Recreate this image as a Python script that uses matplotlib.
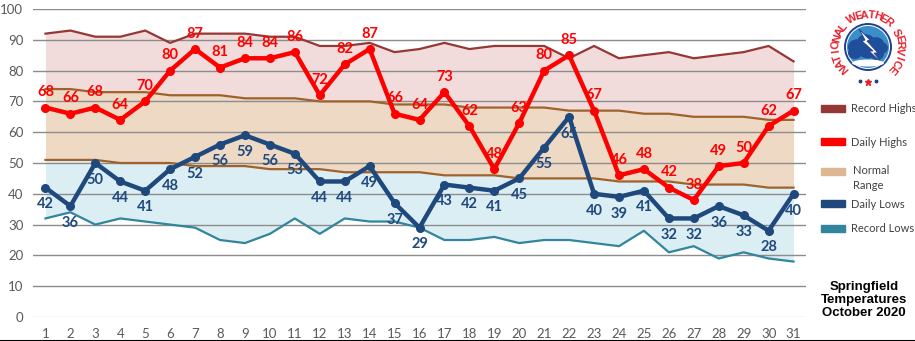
import matplotlib
matplotlib.use("Agg")
import matplotlib.pyplot as plt
import numpy as np
from matplotlib.patches import Rectangle, Circle, Ellipse, Polygon

days = list(range(1, 32))
record_highs = [92, 93, 91, 91, 93, 89, 92, 92, 92, 91, 91, 88, 88, 89, 86, 87, 89, 87, 88, 88,
                88, 84, 88, 84, 85, 86, 84, 85, 86, 88, 83]
normal_highs = [74, 74, 73, 73, 73, 72, 72, 72, 71, 71, 71, 70, 70, 70, 69, 69, 69, 68, 68, 68,
                68, 67, 67, 67, 66, 66, 65, 65, 65, 64, 64]
normal_lows = [51, 51, 51, 50, 50, 50, 49, 49, 49, 48, 48, 48, 47, 47, 47, 47, 46, 46, 46, 45,
               45, 45, 45, 44, 44, 44, 43, 43, 43, 42, 42]
record_lows = [32, 34, 30, 32, 31, 30, 29, 25, 24, 27, 32, 27, 32, 31, 31, 29, 25, 25, 26, 24,
               25, 25, 24, 23, 28, 21, 23, 19, 21, 19, 18]
daily_highs = [68, 66, 68, 64, 70, 80, 87, 81, 84, 84, 86, 72, 82, 87, 66, 64, 73, 62, 48, 63,
               80, 85, 67, 46, 48, 42, 38, 49, 50, 62, 67]
daily_lows = [42, 36, 50, 44, 41, 48, 52, 56, 59, 56, 53, 44, 44, 49, 37, 29, 43, 42, 41, 45,
              55, 65, 40, 39, 41, 32, 32, 36, 33, 28, 40]

legend_labels = ["Record Highs", "Daily Highs", "Normal\nRange", "Daily Lows", "Record Lows"]
title_text = "Springfield\nTemperatures\nOctober 2020"

c_rec_hi = "#953735"
c_hi = "#FF0000"
c_norm = "#A0622D"
c_lo = "#1F497D"
c_rec_lo = "#31859C"

fig = plt.figure(figsize=(9.15, 3.41), dpi=100)
ax = fig.add_axes([33 / 915, 1 - 317 / 341, 773 / 915, 308 / 341])

ax.fill_between(days, normal_highs, record_highs, color="#F2DCDB", lw=0)
ax.fill_between(days, normal_lows, normal_highs, color="#EDD9C4", lw=0)
ax.fill_between(days, record_lows, normal_lows, color="#DBEEF3", lw=0)

for v in range(10, 101, 10):
    ax.axhline(v, color="#8C8C8C", lw=1.0, zorder=1)
ax.axhline(0, color="#D9D9D9", lw=1.0, zorder=1)

ax.plot(days, record_highs, color=c_rec_hi, lw=1.6, zorder=3)
ax.plot(days, normal_highs, color=c_norm, lw=1.6, zorder=3)
ax.plot(days, normal_lows, color=c_norm, lw=1.6, zorder=3)
ax.plot(days, record_lows, color=c_rec_lo, lw=1.6, zorder=3)
ax.plot(days, daily_highs, color=c_hi, lw=3.2, marker="o", ms=5.5, zorder=5)
ax.plot(days, daily_lows, color=c_lo, lw=3.2, marker="o", ms=5.5, zorder=5)

lab_font = dict(fontsize=10.5, fontweight="bold", family="Lato", ha="center")
for d, v in zip(days, daily_highs):
    ax.annotate(str(v), (d, v), xytext=(0, 6), textcoords="offset points",
                va="bottom", color=c_hi, zorder=6, **lab_font)
for d, v in zip(days, daily_lows):
    ax.annotate(str(v), (d, v), xytext=(0, -7), textcoords="offset points",
                va="top", color=c_lo, zorder=6, **lab_font)

ax.set_xlim(0.5, 31.5)
ax.set_ylim(0, 100)
ax.set_xticks(days)
ax.set_yticks(range(0, 101, 10))
for lab in ax.get_xticklabels() + ax.get_yticklabels():
    lab.set_family("Lato")
ax.tick_params(length=0, labelsize=9.5, colors="#595959", pad=8)
ax.tick_params(axis="y", pad=7)
for s in ax.spines.values():
    s.set_visible(False)

# legend
leg_y = [109, 142, 172, 204, 229]
leg_col = [c_rec_hi, c_hi, "#DDB792", c_lo, c_rec_lo]
for yy, col, lab in zip(leg_y, leg_col, legend_labels):
    fig.patches.append(Rectangle((821 / 915, 1 - (yy + 3) / 341), 24 / 915, 7 / 341,
                                 transform=fig.transFigure, color=col))
    if "\n" in lab:
        fig.text(853 / 915, 1 - (yy + 6) / 341, lab, fontsize=8, color="#404040",
                 family="Lato", va="center", linespacing=1.55)
    else:
        fig.text(851 / 915, 1 - yy / 341, lab, fontsize=8, color="#404040",
                 family="Lato", va="center")

fig.text(864 / 915, 1 - 300 / 341, title_text, fontsize=9.5, fontweight="bold",
         family="Liberation Sans", ha="center", va="center", linespacing=1.1)

# NWS logo
lax = fig.add_axes([823 / 915, 1 - 92 / 341, 90 / 915, 90 / 341])
lax.set_xlim(-45, 45)
lax.set_ylim(-45, 45)
lax.set_aspect("equal")
lax.axis("off")
lax.add_patch(Circle((0, 0), 23, facecolor="white", edgecolor="#1F3F8F", lw=1.4))
lax.add_patch(Circle((0, 0), 21, facecolor="#3A8FC8", edgecolor="none"))
for cx, cy, r in [(-11, 0, 9), (-2, 5, 9), (8, 3, 8), (13, -1, 7), (0, -3, 10), (-13, -6, 7), (9, -7, 7)]:
    lax.add_patch(Ellipse((cx, cy), 2 * r, 1.7 * r, facecolor="#1F4E9A", edgecolor="none"))
lax.add_patch(Polygon([(-9, 18), (2, 7), (-1, 6), (10, -6), (6, -6), (16, -18), (1, -4),
                       (5, -4), (-6, 6), (-3, 7)], closed=True, facecolor="white",
                      edgecolor="#1F3F8F", lw=0.6))
lax.add_patch(Ellipse((0, -16), 32, 7, facecolor="white", edgecolor="none"))
txt = "NATIONAL WEATHER SERVICE"
angs = np.linspace(222, -42, len(txt))
for ch, a in zip(txt, angs):
    r = 32
    lax.text(r * np.cos(np.radians(a)), r * np.sin(np.radians(a)), ch, color="#E8202A",
             fontsize=8, fontweight="heavy", family="Liberation Sans",
             rotation=a - 90, ha="center", va="center")
lax.plot([-8, 8], [-34, -34], "o", ms=1.8, color="#1F3F8F")
lax.plot([0], [-35], "*", ms=5, color="#E8202A")

fig.lines.append(plt.Line2D([0, 1], [0.5 / 341, 0.5 / 341], transform=fig.transFigure,
                            color="black", lw=1.5))

fig.savefig("out.png", dpi=100)
